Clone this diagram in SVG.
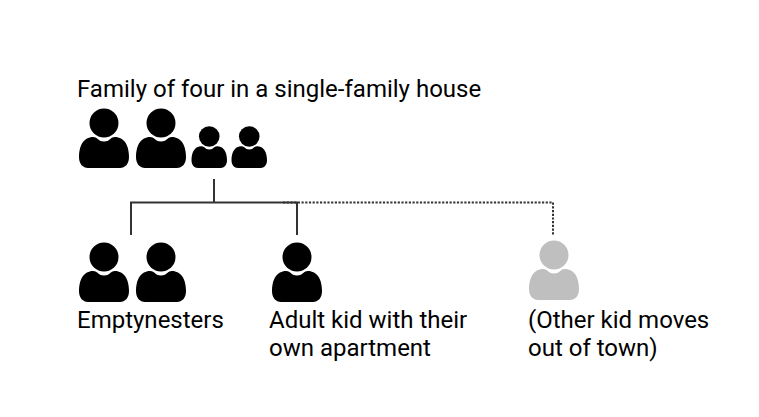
<svg xmlns="http://www.w3.org/2000/svg" width="759" height="417" viewBox="0 0 759 417">
<style>
text{font-family:Roboto,"Liberation Sans",sans-serif;font-size:24px;fill:#000}
.s{fill:none;stroke:#333;stroke-width:2}
.d{fill:none;stroke:#333;stroke-width:2;stroke-dasharray:2.200 1.500}
</style>
<defs>
<g id="person">
<circle cx="25" cy="15" r="14.500"/>
<path d="M0 49C0 40 3 33 8 30.500C11 29 15 28.300 17.500 30C20 32.500 22 33.500 25 33.500C28 33.500 30 32.500 32.500 30C35 28.300 39 29 42 30.500C47 33 50 40 50 49C50 56 46 60 41 60L9 60C4 60 0 56 0 49Z"/>
</g>
</defs>
<rect width="759" height="417" fill="#fff"/>
<g id="connectors">
<path class="d" d="M283 202.500H553V235"/>
<path class="s" d="M214 179V202.500M131 235V202.500H297V235"/>
</g>
<g id="family">
<use href="#person" x="79" y="108"/>
<use href="#person" x="136" y="108"/>
<use href="#person" transform="translate(191.500 126) scale(.71 .7)"/>
<use href="#person" transform="translate(231.500 126) scale(.71 .7)"/>
<text x="77" y="97">Family of four in a single-family house</text>
</g>
<g id="emptynesters">
<use href="#person" x="79" y="242"/>
<use href="#person" x="136" y="242"/>
<text x="77" y="328">Emptynesters</text>
</g>
<g id="adult-kid">
<use href="#person" x="272" y="242"/>
<text x="269" y="328">Adult kid with their</text>
<text x="269" y="356">own apartment</text>
</g>
<g id="other-kid" fill="#bfbfbf">
<use href="#person" x="529" y="240"/>
<text x="528" y="328">(Other kid moves</text>
<text x="528" y="356">out of town)</text>
</g>
</svg>
